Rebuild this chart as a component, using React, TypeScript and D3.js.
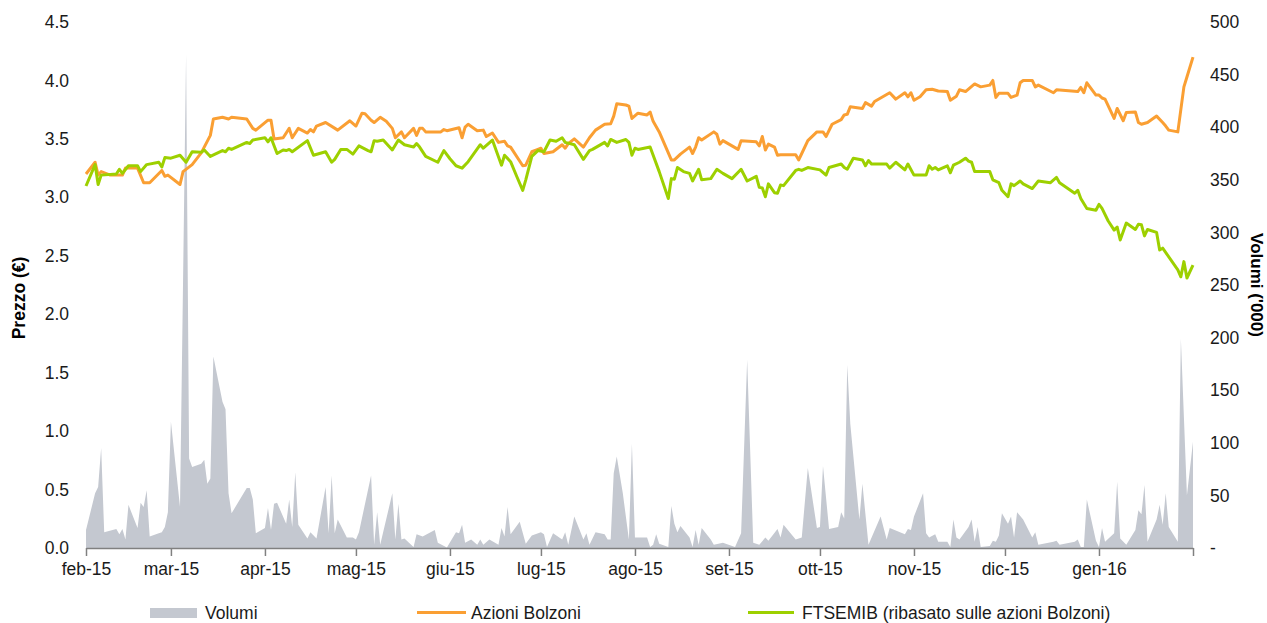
import { useEffect, useRef } from "react";
import * as d3 from "d3";

// values
const monthLabels = ["feb-15", "mar-15", "apr-15", "mag-15", "giu-15", "lug-15", "ago-15", "set-15", "ott-15", "nov-15", "dic-15", "gen-16", ""];
const leftTicks = [0, 0.5, 1, 1.5, 2, 2.5, 3, 3.5, 4, 4.5];
const rightTicks = [0, 50, 100, 150, 200, 250, 300, 350, 400, 450, 500];

const azioni: [string, number][] = [
  ["2015-02-01", 3.2], ["2015-02-04", 3.3], ["2015-02-05", 3.19], ["2015-02-06", 3.22], ["2015-02-09", 3.19],
  ["2015-02-13", 3.19], ["2015-02-14", 3.25], ["2015-02-18", 3.25], ["2015-02-20", 3.125], ["2015-02-22", 3.125],
  ["2015-02-26", 3.23], ["2015-02-27", 3.18], ["2015-02-28", 3.19], ["2015-03-04", 3.11], ["2015-03-05", 3.22],
  ["2015-03-08", 3.28], ["2015-03-11", 3.38], ["2015-03-14", 3.53], ["2015-03-15", 3.67], ["2015-03-18", 3.685],
  ["2015-03-20", 3.67], ["2015-03-21", 3.685], ["2015-03-26", 3.67], ["2015-03-28", 3.59], ["2015-03-29", 3.575],
  ["2015-04-02", 3.66], ["2015-04-03", 3.66], ["2015-04-04", 3.5], ["2015-04-07", 3.51], ["2015-04-09", 3.59],
  ["2015-04-10", 3.51], ["2015-04-12", 3.59], ["2015-04-15", 3.55], ["2015-04-16", 3.58], ["2015-04-17", 3.56],
  ["2015-04-18", 3.61], ["2015-04-21", 3.64], ["2015-04-25", 3.575], ["2015-04-29", 3.655], ["2015-05-01", 3.61],
  ["2015-05-03", 3.72], ["2015-05-04", 3.715], ["2015-05-06", 3.66], ["2015-05-07", 3.64], ["2015-05-09", 3.685],
  ["2015-05-11", 3.65], ["2015-05-13", 3.59], ["2015-05-14", 3.51], ["2015-05-16", 3.56], ["2015-05-17", 3.51],
  ["2015-05-20", 3.59], ["2015-05-21", 3.53], ["2015-05-22", 3.59], ["2015-05-23", 3.59], ["2015-05-24", 3.56],
  ["2015-05-29", 3.56], ["2015-05-30", 3.58], ["2015-05-31", 3.57], ["2015-06-04", 3.595], ["2015-06-05", 3.51],
  ["2015-06-06", 3.6], ["2015-06-07", 3.625], ["2015-06-10", 3.57], ["2015-06-12", 3.575], ["2015-06-13", 3.52],
  ["2015-06-15", 3.55], ["2015-06-17", 3.47], ["2015-06-19", 3.48], ["2015-06-20", 3.44], ["2015-06-21", 3.43],
  ["2015-06-25", 3.27], ["2015-06-26", 3.275], ["2015-06-28", 3.39], ["2015-06-30", 3.41], ["2015-07-01", 3.42],
  ["2015-07-02", 3.375], ["2015-07-05", 3.39], ["2015-07-08", 3.45], ["2015-07-09", 3.42], ["2015-07-10", 3.46],
  ["2015-07-12", 3.5], ["2015-07-15", 3.43], ["2015-07-17", 3.51], ["2015-07-19", 3.575], ["2015-07-22", 3.625],
  ["2015-07-24", 3.63], ["2015-07-25", 3.695], ["2015-07-26", 3.8], ["2015-07-29", 3.79], ["2015-07-30", 3.78],
  ["2015-07-31", 3.675], ["2015-08-02", 3.72], ["2015-08-05", 3.705], ["2015-08-06", 3.73], ["2015-08-07", 3.65],
  ["2015-08-09", 3.56], ["2015-08-13", 3.32], ["2015-08-14", 3.32], ["2015-08-16", 3.37], ["2015-08-19", 3.43],
  ["2015-08-20", 3.375], ["2015-08-21", 3.43], ["2015-08-22", 3.51], ["2015-08-23", 3.49], ["2015-08-27", 3.56],
  ["2015-08-28", 3.54], ["2015-08-29", 3.455], ["2015-08-30", 3.485], ["2015-09-04", 3.41], ["2015-09-05", 3.485],
  ["2015-09-10", 3.475], ["2015-09-11", 3.44], ["2015-09-12", 3.52], ["2015-09-13", 3.405], ["2015-09-14", 3.455],
  ["2015-09-16", 3.43], ["2015-09-17", 3.36], ["2015-09-18", 3.365], ["2015-09-23", 3.365], ["2015-09-24", 3.32],
  ["2015-09-25", 3.375], ["2015-09-27", 3.485], ["2015-09-30", 3.56], ["2015-10-02", 3.56], ["2015-10-03", 3.52],
  ["2015-10-05", 3.625], ["2015-10-08", 3.665], ["2015-10-09", 3.705], ["2015-10-10", 3.71], ["2015-10-11", 3.775],
  ["2015-10-15", 3.76], ["2015-10-16", 3.81], ["2015-10-18", 3.78], ["2015-10-19", 3.82], ["2015-10-24", 3.895],
  ["2015-10-26", 3.84], ["2015-10-29", 3.895], ["2015-10-30", 3.86], ["2015-10-31", 3.895], ["2015-11-01", 3.83],
  ["2015-11-03", 3.86], ["2015-11-05", 3.92], ["2015-11-07", 3.925], ["2015-11-09", 3.91], ["2015-11-12", 3.905],
  ["2015-11-13", 3.83], ["2015-11-15", 3.865], ["2015-11-16", 3.92], ["2015-11-18", 3.905], ["2015-11-21", 3.97],
  ["2015-11-23", 3.945], ["2015-11-26", 3.96], ["2015-11-27", 4.0], ["2015-11-28", 3.855], ["2015-11-29", 3.89],
  ["2015-12-02", 3.89], ["2015-12-03", 3.855], ["2015-12-05", 3.875], ["2015-12-06", 3.98], ["2015-12-07", 4.0],
  ["2015-12-10", 4.0], ["2015-12-11", 3.945], ["2015-12-12", 3.96], ["2015-12-17", 3.895], ["2015-12-18", 3.92],
  ["2015-12-25", 3.905], ["2015-12-26", 3.94], ["2015-12-27", 3.895], ["2015-12-28", 3.98], ["2015-12-31", 3.875],
  ["2016-01-01", 3.875], ["2016-01-02", 3.85], ["2016-01-03", 3.84], ["2016-01-06", 3.675], ["2016-01-07", 3.76],
  ["2016-01-09", 3.655], ["2016-01-10", 3.725], ["2016-01-13", 3.73], ["2016-01-14", 3.64], ["2016-01-15", 3.625],
  ["2016-01-17", 3.64], ["2016-01-20", 3.695], ["2016-01-22", 3.64], ["2016-01-23", 3.61], ["2016-01-24", 3.575],
  ["2016-01-27", 3.56], ["2016-01-29", 3.945], ["2016-01-30", 4.03], ["2016-02-01", 4.2],
];

const ftsemib: [string, number][] = [
  ["2015-02-01", 3.097], ["2015-02-04", 3.28], ["2015-02-05", 3.11], ["2015-02-06", 3.19], ["2015-02-11", 3.2],
  ["2015-02-12", 3.24], ["2015-02-13", 3.205], ["2015-02-15", 3.27], ["2015-02-18", 3.27], ["2015-02-19", 3.22],
  ["2015-02-21", 3.28], ["2015-02-25", 3.3], ["2015-02-26", 3.26], ["2015-02-27", 3.34], ["2015-03-01", 3.335],
  ["2015-03-04", 3.36], ["2015-03-06", 3.3], ["2015-03-08", 3.39], ["2015-03-11", 3.385], ["2015-03-12", 3.405],
  ["2015-03-14", 3.35], ["2015-03-18", 3.4], ["2015-03-19", 3.39], ["2015-03-20", 3.42], ["2015-03-21", 3.41],
  ["2015-03-26", 3.47], ["2015-03-27", 3.46], ["2015-03-28", 3.49], ["2015-04-01", 3.51], ["2015-04-02", 3.475],
  ["2015-04-03", 3.51], ["2015-04-05", 3.375], ["2015-04-07", 3.405], ["2015-04-08", 3.4], ["2015-04-09", 3.41],
  ["2015-04-10", 3.39], ["2015-04-15", 3.485], ["2015-04-17", 3.36], ["2015-04-21", 3.39], ["2015-04-23", 3.3],
  ["2015-04-24", 3.325], ["2015-04-26", 3.41], ["2015-04-28", 3.41], ["2015-04-30", 3.37], ["2015-05-02", 3.44],
  ["2015-05-05", 3.4], ["2015-05-06", 3.39], ["2015-05-07", 3.485], ["2015-05-08", 3.48], ["2015-05-10", 3.49],
  ["2015-05-13", 3.405], ["2015-05-15", 3.49], ["2015-05-17", 3.45], ["2015-05-20", 3.43], ["2015-05-21", 3.46],
  ["2015-05-22", 3.43], ["2015-05-24", 3.35], ["2015-05-28", 3.3], ["2015-05-30", 3.4], ["2015-06-01", 3.33],
  ["2015-06-03", 3.27], ["2015-06-05", 3.25], ["2015-06-07", 3.305], ["2015-06-11", 3.45], ["2015-06-12", 3.42],
  ["2015-06-15", 3.49], ["2015-06-18", 3.275], ["2015-06-19", 3.36], ["2015-06-21", 3.305], ["2015-06-23", 3.18],
  ["2015-06-25", 3.06], ["2015-06-26", 3.15], ["2015-06-28", 3.35], ["2015-06-30", 3.4], ["2015-07-02", 3.39],
  ["2015-07-04", 3.49], ["2015-07-06", 3.48], ["2015-07-08", 3.51], ["2015-07-09", 3.47], ["2015-07-12", 3.45],
  ["2015-07-15", 3.325], ["2015-07-17", 3.4], ["2015-07-18", 3.41], ["2015-07-22", 3.47], ["2015-07-23", 3.44],
  ["2015-07-24", 3.495], ["2015-07-26", 3.47], ["2015-07-29", 3.495], ["2015-07-30", 3.47], ["2015-07-31", 3.36],
  ["2015-08-01", 3.42], ["2015-08-02", 3.41], ["2015-08-06", 3.43], ["2015-08-09", 3.22], ["2015-08-12", 2.99],
  ["2015-08-13", 3.16], ["2015-08-14", 3.155], ["2015-08-15", 3.255], ["2015-08-17", 3.22], ["2015-08-19", 3.205],
  ["2015-08-20", 3.14], ["2015-08-22", 3.24], ["2015-08-23", 3.15], ["2015-08-26", 3.16], ["2015-08-28", 3.24],
  ["2015-08-30", 3.205], ["2015-09-02", 3.16], ["2015-09-05", 3.24], ["2015-09-07", 3.14], ["2015-09-10", 3.18],
  ["2015-09-11", 3.085], ["2015-09-12", 3.08], ["2015-09-13", 3.005], ["2015-09-14", 3.115], ["2015-09-16", 3.04],
  ["2015-09-17", 3.035], ["2015-09-18", 3.105], ["2015-09-19", 3.1], ["2015-09-23", 3.23], ["2015-09-24", 3.24],
  ["2015-09-25", 3.23], ["2015-09-27", 3.255], ["2015-10-01", 3.235], ["2015-10-03", 3.19], ["2015-10-04", 3.255],
  ["2015-10-08", 3.285], ["2015-10-09", 3.255], ["2015-10-10", 3.24], ["2015-10-12", 3.335], ["2015-10-15", 3.32],
  ["2015-10-16", 3.27], ["2015-10-17", 3.315], ["2015-10-18", 3.285], ["2015-10-23", 3.285], ["2015-10-24", 3.25],
  ["2015-10-26", 3.3], ["2015-10-29", 3.235], ["2015-10-30", 3.285], ["2015-11-01", 3.19], ["2015-11-05", 3.19],
  ["2015-11-06", 3.27], ["2015-11-07", 3.24], ["2015-11-08", 3.255], ["2015-11-09", 3.235], ["2015-11-12", 3.27],
  ["2015-11-13", 3.21], ["2015-11-14", 3.275], ["2015-11-16", 3.3], ["2015-11-18", 3.335], ["2015-11-19", 3.31],
  ["2015-11-20", 3.3], ["2015-11-21", 3.22], ["2015-11-26", 3.22], ["2015-11-27", 3.15], ["2015-11-29", 3.125],
  ["2015-11-30", 3.06], ["2015-12-02", 3.005], ["2015-12-03", 3.115], ["2015-12-04", 3.1], ["2015-12-06", 3.14],
  ["2015-12-07", 3.115], ["2015-12-10", 3.075], ["2015-12-12", 3.14], ["2015-12-16", 3.125], ["2015-12-18", 3.17],
  ["2015-12-19", 3.125], ["2015-12-24", 3.035], ["2015-12-25", 3.06], ["2015-12-26", 2.99], ["2015-12-28", 2.905],
  ["2015-12-31", 2.89], ["2016-01-01", 2.94], ["2016-01-02", 2.905], ["2016-01-04", 2.8], ["2016-01-06", 2.72],
  ["2016-01-07", 2.745], ["2016-01-08", 2.635], ["2016-01-10", 2.78], ["2016-01-13", 2.725], ["2016-01-14", 2.77],
  ["2016-01-15", 2.765], ["2016-01-16", 2.67], ["2016-01-17", 2.725], ["2016-01-20", 2.7], ["2016-01-21", 2.55],
  ["2016-01-22", 2.565], ["2016-01-27", 2.38], ["2016-01-28", 2.32], ["2016-01-29", 2.45], ["2016-01-30", 2.31],
  ["2016-02-01", 2.42],
];

// volumi in migliaia
const volumi: [string, number][] = [
  ["2015-02-01", 17], ["2015-02-04", 52], ["2015-02-05", 58], ["2015-02-06", 95], ["2015-02-07", 15],
  ["2015-02-11", 18], ["2015-02-12", 13], ["2015-02-13", 18], ["2015-02-14", 8], ["2015-02-15", 41],
  ["2015-02-18", 19], ["2015-02-19", 43], ["2015-02-20", 39], ["2015-02-21", 55], ["2015-02-22", 11],
  ["2015-02-25", 14], ["2015-02-26", 15], ["2015-02-27", 20], ["2015-02-28", 34], ["2015-03-01", 120],
  ["2015-03-04", 39], ["2015-03-06", 469], ["2015-03-07", 85], ["2015-03-08", 77], ["2015-03-11", 80],
  ["2015-03-12", 84], ["2015-03-13", 61], ["2015-03-14", 66], ["2015-03-15", 182], ["2015-03-18", 139],
  ["2015-03-19", 132], ["2015-03-20", 52], ["2015-03-21", 33], ["2015-03-26", 57], ["2015-03-27", 57],
  ["2015-03-28", 46], ["2015-03-29", 14], ["2015-04-01", 19], ["2015-04-02", 38], ["2015-04-03", 17],
  ["2015-04-04", 42], ["2015-04-05", 43], ["2015-04-08", 23], ["2015-04-09", 46], ["2015-04-10", 20],
  ["2015-04-11", 72], ["2015-04-12", 22], ["2015-04-15", 9], ["2015-04-16", 15], ["2015-04-18", 9],
  ["2015-04-21", 58], ["2015-04-22", 14], ["2015-04-23", 69], ["2015-04-24", 14], ["2015-04-25", 27],
  ["2015-04-28", 10], ["2015-04-30", 10], ["2015-05-01", 8], ["2015-05-02", 15], ["2015-05-06", 69],
  ["2015-05-07", 3], ["2015-05-08", 34], ["2015-05-09", 3], ["2015-05-13", 52], ["2015-05-14", 8],
  ["2015-05-15", 42], ["2015-05-16", 8], ["2015-05-17", 9], ["2015-05-20", 1], ["2015-05-21", 13],
  ["2015-05-23", 11], ["2015-05-27", 17], ["2015-05-28", 5], ["2015-05-31", 0.5], ["2015-06-03", 15],
  ["2015-06-04", 14], ["2015-06-05", 22], ["2015-06-06", 5], ["2015-06-08", 8], ["2015-06-10", 3],
  ["2015-06-11", 8], ["2015-06-12", 3], ["2015-06-14", 8], ["2015-06-17", 3], ["2015-06-18", 19],
  ["2015-06-19", 11], ["2015-06-20", 39], ["2015-06-21", 13], ["2015-06-24", 25], ["2015-06-26", 4],
  ["2015-06-28", 12], ["2015-07-01", 15], ["2015-07-02", 13], ["2015-07-03", 1], ["2015-07-05", 14],
  ["2015-07-08", 8], ["2015-07-09", 15], ["2015-07-10", 3], ["2015-07-12", 30], ["2015-07-15", 8],
  ["2015-07-16", 14], ["2015-07-17", 3], ["2015-07-19", 15], ["2015-07-22", 13], ["2015-07-23", 8],
  ["2015-07-24", 8], ["2015-07-25", 71], ["2015-07-26", 87], ["2015-07-28", 52], ["2015-07-30", 8],
  ["2015-07-31", 99], ["2015-08-01", 10], ["2015-08-05", 10], ["2015-08-06", 1], ["2015-08-07", 3],
  ["2015-08-08", 13], ["2015-08-09", 4], ["2015-08-12", 1], ["2015-08-13", 40], ["2015-08-14", 23],
  ["2015-08-15", 15], ["2015-08-16", 21], ["2015-08-19", 10], ["2015-08-20", 1], ["2015-08-21", 17],
  ["2015-08-22", 3], ["2015-08-23", 19], ["2015-08-26", 8], ["2015-08-27", 3], ["2015-08-30", 5],
  ["2015-09-03", 1], ["2015-09-05", 14], ["2015-09-07", 179], ["2015-09-09", 5], ["2015-09-11", 3],
  ["2015-09-13", 10], ["2015-09-14", 7], ["2015-09-17", 18], ["2015-09-18", 10], ["2015-09-19", 22],
  ["2015-09-23", 8], ["2015-09-25", 10], ["2015-09-27", 76], ["2015-09-30", 19], ["2015-10-01", 20],
  ["2015-10-02", 78], ["2015-10-04", 18], ["2015-10-07", 20], ["2015-10-08", 34], ["2015-10-09", 28],
  ["2015-10-10", 174], ["2015-10-11", 118], ["2015-10-14", 27], ["2015-10-15", 61], ["2015-10-17", 3],
  ["2015-10-21", 30], ["2015-10-23", 8], ["2015-10-24", 19], ["2015-10-29", 13], ["2015-10-30", 18],
  ["2015-10-31", 17], ["2015-11-01", 30], ["2015-11-04", 52], ["2015-11-05", 14], ["2015-11-06", 10],
  ["2015-11-08", 13], ["2015-11-09", 6], ["2015-11-12", 6], ["2015-11-13", 1], ["2015-11-14", 27],
  ["2015-11-15", 10], ["2015-11-16", 8], ["2015-11-19", 20], ["2015-11-20", 27], ["2015-11-21", 6],
  ["2015-11-22", 20], ["2015-11-23", 1], ["2015-11-26", 2], ["2015-11-27", 7], ["2015-11-28", 6],
  ["2015-11-29", 12], ["2015-11-30", 33], ["2015-12-02", 23], ["2015-12-03", 30], ["2015-12-04", 10],
  ["2015-12-05", 34], ["2015-12-07", 27], ["2015-12-10", 10], ["2015-12-11", 15], ["2015-12-12", 3],
  ["2015-12-17", 6], ["2015-12-18", 7], ["2015-12-19", 3], ["2015-12-24", 6], ["2015-12-25", 8],
  ["2015-12-26", 1], ["2015-12-27", 1], ["2015-12-28", 46], ["2015-12-31", 7], ["2016-01-01", 1],
  ["2016-01-02", 19], ["2016-01-03", 6], ["2016-01-06", 14], ["2016-01-07", 63], ["2016-01-08", 9],
  ["2016-01-10", 3], ["2016-01-13", 17], ["2016-01-14", 36], ["2016-01-15", 32], ["2016-01-16", 60],
  ["2016-01-17", 6], ["2016-01-20", 27], ["2016-01-21", 41], ["2016-01-22", 22], ["2016-01-23", 52],
  ["2016-01-24", 20], ["2016-01-27", 6], ["2016-01-28", 199], ["2016-01-30", 50], ["2016-02-01", 101],
];

const FONT = "'Liberation Sans', Arial, sans-serif";
const ORANGE = "#FA9F33";
const GREEN = "#9DD000";
const GREY = "#C4C8D0";
const AXIS = "#808080";

export default function App() {
    const svgRef = useRef<SVGSVGElement>(null);

    useEffect(() => {
        const svg = d3.select(svgRef.current);
        svg.selectAll("*").remove();

        const parse = d3.timeParse("%Y-%m-%d");
        const x = d3.scaleTime()
            .domain([new Date(2015, 1, 1), new Date(2016, 1, 1)])
            .range([86, 1193]);
        const yL = d3.scaleLinear().domain([0, 4.5]).range([548, 22]);
        const yR = d3.scaleLinear().domain([0, 500]).range([548, 22]);

        // volumes area
        const area = d3.area<[string, number]>()
            .x(d => x(parse(d[0])!))
            .y0(yR(0))
            .y1(d => yR(d[1]));
        svg.append("path").datum(volumi).attr("d", area).attr("fill", GREY);

        const line = d3.line<[string, number]>()
            .x(d => x(parse(d[0])!))
            .y(d => yL(d[1]));

        svg.append("path").datum(azioni).attr("d", line)
            .attr("fill", "none").attr("stroke", ORANGE)
            .attr("stroke-width", 3).attr("stroke-linejoin", "round");

        svg.append("path").datum(ftsemib).attr("d", line)
            .attr("fill", "none").attr("stroke", GREEN)
            .attr("stroke-width", 3).attr("stroke-linejoin", "round");

        // bottom axis
        const months = d3.timeMonth.range(new Date(2015, 1, 1), new Date(2016, 1, 2));
        const xAxis = svg.append("g")
            .attr("transform", "translate(0,548)")
            .call(
                d3.axisBottom(x)
                    .tickValues(months)
                    .tickSize(8)
                    .tickSizeOuter(0)
                    .tickPadding(7)
                    .tickFormat((_, i) => monthLabels[i])
            );
        xAxis.select(".domain").attr("stroke", AXIS).attr("stroke-width", 1.5);
        xAxis.selectAll(".tick line").attr("stroke", AXIS).attr("stroke-width", 1.5);

        // left axis
        const left = svg.append("g")
            .attr("transform", "translate(86,0)")
            .call(
                d3.axisLeft(yL)
                    .tickValues(leftTicks)
                    .tickSize(0)
                    .tickPadding(17)
                    .tickFormat(d3.format(".1f") as any)
            );
        left.select(".domain").remove();

        // right axis
        const right = svg.append("g")
            .attr("transform", "translate(1193,0)")
            .call(
                d3.axisRight(yR)
                    .tickValues(rightTicks)
                    .tickSize(0)
                    .tickPadding(17)
                    .tickFormat(d => (+d === 0 ? "-" : String(d)))
            );
        right.select(".domain").remove();

        svg.selectAll(".tick text")
            .attr("font-family", FONT)
            .attr("font-size", 17.5)
            .attr("fill", "#1a1a1a");

        // axis titles
        svg.append("text")
            .attr("transform", "translate(19,298) rotate(-90)")
            .attr("text-anchor", "middle")
            .attr("dominant-baseline", "central")
            .attr("font-family", FONT)
            .attr("font-size", 17.5)
            .attr("font-weight", "bold")
            .text("Prezzo (€)");

        svg.append("text")
            .attr("transform", "translate(1256,285) rotate(90)")
            .attr("text-anchor", "middle")
            .attr("dominant-baseline", "central")
            .attr("font-family", FONT)
            .attr("font-size", 17)
            .attr("font-weight", "bold")
            .text("Volumi ('000)");

        // legend
        const legend = svg.append("g").attr("font-family", FONT).attr("font-size", 17.5).attr("fill", "#1a1a1a");
        legend.append("rect").attr("x", 150).attr("y", 608).attr("width", 47).attr("height", 10).attr("fill", GREY);
        legend.append("text").attr("x", 205).attr("y", 613).attr("dominant-baseline", "central").text("Volumi");
        legend.append("line").attr("x1", 417).attr("x2", 466).attr("y1", 612.5).attr("y2", 612.5)
            .attr("stroke", ORANGE).attr("stroke-width", 3);
        legend.append("text").attr("x", 471).attr("y", 613).attr("dominant-baseline", "central").text("Azioni Bolzoni");
        legend.append("line").attr("x1", 748).attr("x2", 794).attr("y1", 612.5).attr("y2", 612.5)
            .attr("stroke", GREEN).attr("stroke-width", 3);
        legend.append("text").attr("x", 802).attr("y", 613).attr("dominant-baseline", "central")
            .text("FTSEMIB (ribasato sulle azioni Bolzoni)");
    }, []);

    return (
        <div style={{ position: "fixed", left: 0, top: 0 }}>
            <svg ref={svgRef} width={1267} height={623} style={{ display: "block", background: "#fff" }} />
        </div>
    );
}
